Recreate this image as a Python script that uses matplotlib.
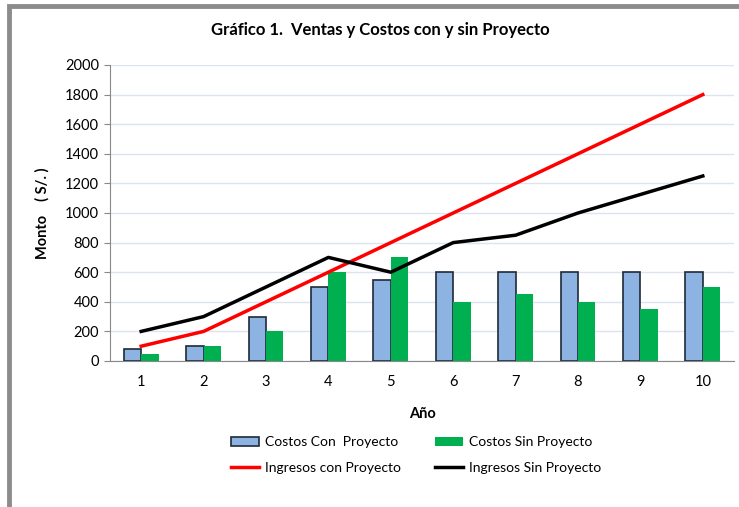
import matplotlib.pyplot as plt
import matplotlib.patches as mpatches
import numpy as np

plt.rcParams['font.family'] = ['Lato', 'DejaVu Sans']

anios = [1, 2, 3, 4, 5, 6, 7, 8, 9, 10]
costos_con = [80, 100, 300, 500, 550, 600, 600, 600, 600, 600]
costos_sin = [50, 100, 200, 600, 700, 400, 450, 400, 350, 500]
ingresos_con = [100, 200, 400, 600, 800, 1000, 1200, 1400, 1600, 1800]
ingresos_sin = [200, 300, 500, 700, 600, 800, 850, 1000, 1125, 1250]

fig = plt.figure(figsize=(7.39, 5.07), dpi=100)
ax = fig.add_axes([110/739, 1-361/507, 624/739, 296/507])

# marco gris del gráfico
fig.patches.append(mpatches.Rectangle((9/739, -0.1), 1.2, 1-6/507+0.1, transform=fig.transFigure,
                                      fill=False, edgecolor='#8c8c8c', linewidth=3.5))

x = np.arange(len(anios))
w = 0.28
b1 = ax.bar(x - w/2, costos_con, w, color='#8db3e2', edgecolor='#1f2a36', linewidth=1.2,
            label='Costos Con  Proyecto', zorder=2)
b2 = ax.bar(x + w/2, costos_sin, w, color='#00b050', label='Costos Sin Proyecto', zorder=2)
l1, = ax.plot(x, ingresos_con, color='#ff0000', linewidth=2.5, label='Ingresos con Proyecto', zorder=3)
l2, = ax.plot(x, ingresos_sin, color='#000000', linewidth=2.5, label='Ingresos Sin Proyecto', zorder=3)

ax.set_xlim(-0.5, 9.5)
ax.set_ylim(0, 2000)
ax.set_yticks(range(0, 2001, 200))
ax.set_xticks(x)
ax.set_xticklabels([str(a) for a in anios])
ax.tick_params(axis='both', labelsize=10.5, color='#888888')
ax.tick_params(axis='x', length=0, pad=10)
ax.tick_params(axis='y', length=4, pad=4)
ax.grid(axis='y', color='#dce4f2', linewidth=1, zorder=0)
ax.set_axisbelow(True)
for s in ['top', 'right']:
    ax.spines[s].set_visible(False)
ax.spines['left'].set_color('#888888')
ax.spines['bottom'].set_color('#888888')

ax.set_xlabel('Año', fontsize=10.5, fontweight='bold', labelpad=13)
ax.set_ylabel('Monto    ( S/. )', fontsize=10.5, fontweight='bold', labelpad=11)
fig.text(380/739, 1-30/507, 'Gráfico 1.  Ventas y Costos con y sin Proyecto',
         ha='center', va='center', fontsize=12, fontweight='bold')

fig.legend(handles=[b1, l1, b2, l2], ncol=2, loc='center', bbox_to_anchor=(416/739, 1-455/507),
           frameon=False, fontsize=10, handlelength=2.0, handleheight=0.6,
           columnspacing=2.5, labelspacing=0.95, handletextpad=0.4)

fig.savefig('out.png', dpi=100)
